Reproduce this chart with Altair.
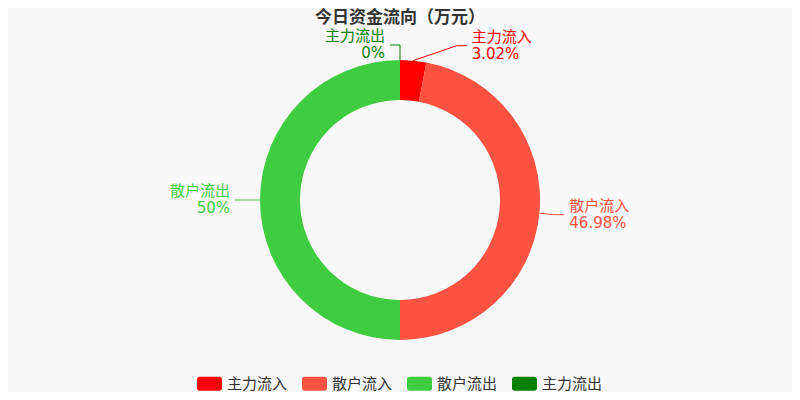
import altair as alt
import pandas as pd
import numpy as np

# ---------------- data ----------------
categories = ["主力流入", "散户流入", "散户流出", "主力流出"]
percents = [3.02, 46.98, 50.0, 0.0]
pct_labels = ["3.02%", "46.98%", "50%", "0%"]
colors = ["#ff0000", "#ff5240", "#40cc40", "#008000"]
chart_title = "今日资金流向（万元）"

# ---------------- style ----------------
W, H = 784, 384
CX, CY = 392, 192
R_OUT, R_IN = 140, 100
ELBOW_R = 155
LEN2 = 10
GAP = 5
NUDGE = {"主力流入": 42}
FONT = "DejaVu Sans, Noto Sans CJK SC"
BG = "#f8f8f8"

df = pd.DataFrame({"name": categories, "pct": percents, "label": pct_labels,
                   "hex": colors, "idx": range(len(categories))})

# label geometry derived from the data
total = df["pct"].sum()
ends = df["pct"].cumsum() / total
starts = ends - df["pct"] / total
mid = (starts + ends) / 2 * 2 * np.pi
df["ax"] = CX + R_OUT * np.sin(mid)
df["ay"] = CY - R_OUT * np.cos(mid)
df["ex"] = CX + ELBOW_R * np.sin(mid) + df["name"].map(NUDGE).fillna(0)
df["ey"] = CY - ELBOW_R * np.cos(mid)
df["side"] = np.where(mid < np.pi, 1, -1)
df["tx"] = df["ex"] + df["side"] * LEN2
df["lx"] = df["tx"] + df["side"] * GAP

rows = []
for rec in df.to_dict("records"):
    pts = [(rec["ax"], rec["ay"]), (rec["ex"], rec["ey"]), (rec["tx"], rec["ey"])]
    for k, (x, y) in enumerate(pts):
        rows.append({"name": rec["name"], "hex": rec["hex"], "k": k, "x": x, "y": y})
lines_df = pd.DataFrame(rows)

legend_path = ("M-0.8,-0.56 H0.8 A0.2,0.2 0 0 1 1,-0.36 V0.36 A0.2,0.2 0 0 1 0.8,0.56 "
               "H-0.8 A0.2,0.2 0 0 1 -1,0.36 V-0.36 A0.2,0.2 0 0 1 -0.8,-0.56 Z")

arc = alt.Chart(df).mark_arc(radius=R_OUT, radius2=R_IN).encode(
    theta=alt.Theta("pct:Q", stack=True),
    order=alt.Order("idx:Q", sort="ascending"),
    color=alt.Color("name:N", scale=alt.Scale(domain=categories, range=colors),
                    legend=alt.Legend(title=None, orient="none", direction="horizontal",
                                      legendX=189, legendY=363,
                                      symbolType=legend_path, symbolSize=625,
                                      symbolStrokeWidth=0, symbolOpacity=1,
                                      labelFont=FONT, labelFontSize=15, labelColor="#333",
                                      labelOffset=5, columnPadding=14)),
    x=alt.value(CX), y=alt.value(CY),
)

lines = alt.Chart(lines_df).mark_line(strokeWidth=1).encode(
    x=alt.X("x:Q", scale=None, axis=None),
    y=alt.Y("y:Q", scale=None, axis=None),
    detail="name:N",
    order="k:Q",
    color=alt.Color("hex:N", scale=None),
)

def text_layer(side, field, dy, size):
    align = "left" if side == 1 else "right"
    return alt.Chart(df).transform_filter(alt.datum.side == side).mark_text(
        align=align, baseline="alphabetic", dy=dy, font=FONT, fontSize=size
    ).encode(
        x=alt.X("lx:Q", scale=None, axis=None),
        y=alt.Y("ey:Q", scale=None, axis=None),
        text=f"{field}:N",
        color=alt.Color("hex:N", scale=None),
    )

texts = [text_layer(s, f, dy, sz) for s in (1, -1)
         for f, dy, sz in (("name", -4, 15), ("label", 13, 15))]

title = alt.Chart(pd.DataFrame({"t": [chart_title]})).mark_text(
    align="center", baseline="alphabetic", font=FONT, fontSize=17,
    fontWeight="bold", color="#333"
).encode(x=alt.value(CX), y=alt.value(15), text="t:N")

chart = alt.layer(arc, lines, *texts, title).properties(
    width=W, height=H, autosize="none",
    padding=0,
    background=BG,
).configure_view(stroke=None)

chart.save("out.html", embed_options={"renderer": "svg", "actions": False})
